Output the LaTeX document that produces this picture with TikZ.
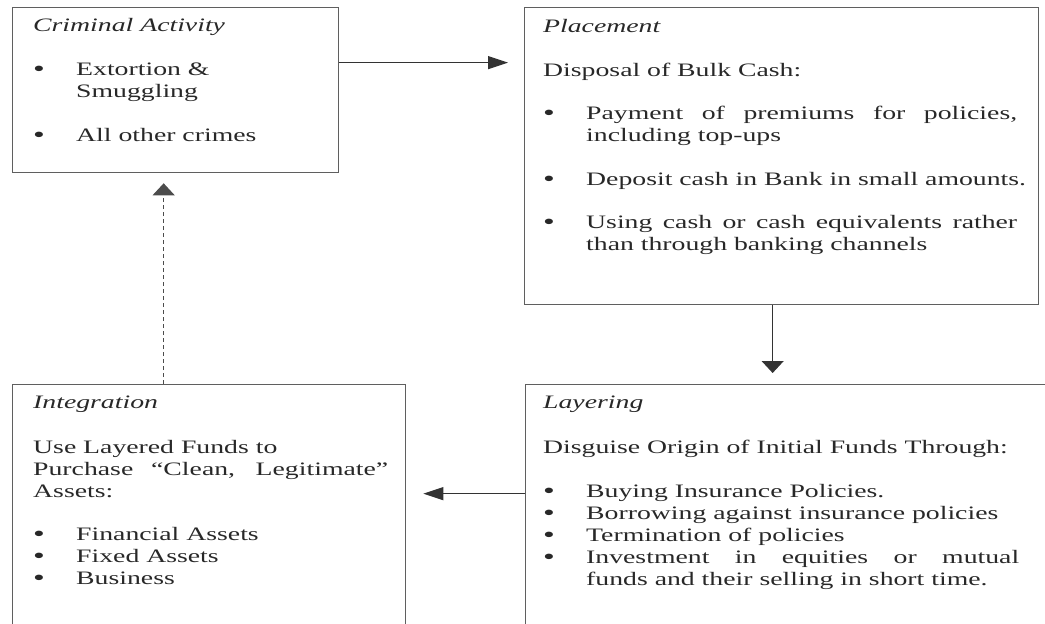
\documentclass[tikz,border=0pt]{standalone}
\usepackage{fontspec}
\setmainfont{Liberation Serif}[FakeStretch=1.46]
\usepackage{tikz}
\usetikzlibrary{arrows.meta,positioning}
\usepackage{xcolor}
\definecolor{boxgray}{RGB}{95,95,95}
\definecolor{inkgray}{RGB}{40,40,40}
\newcommand{\bulitem}{\makebox[43pt][l]{\raisebox{-1.2pt}{\fontsize{23pt}{22pt}\selectfont\textbullet}}}
\newcommand{\contline}{\hspace*{43pt}}
\newcommand{\jline}[2]{\makebox[#1][s]{#2}}

\begin{document}
\begin{tikzpicture}[x=1pt, y=-1pt,
    stage/.style={draw=boxgray, line width=1.3pt, anchor=north west, inner sep=0pt},
    txt/.style={anchor=north west, align=left, inner sep=0pt, text=inkgray,
        font=\fontsize{19pt}{22pt}\selectfont},
    harr/.style={-{Triangle[length=20pt, width=13pt]}, line width=1.2pt, black!80},
    varr/.style={-{Triangle[length=12pt, width=22pt]}, line width=1.2pt, black!80}]

    \useasboundingbox (0,0) rectangle (1045,624);
    \clip (0,0) rectangle (1045,624);

    % Boxes
    \node[stage, minimum width=326pt, minimum height=165pt] (crime) at (12,7) {};
    \node[stage, minimum width=514pt, minimum height=297pt] (place) at (524,7) {};
    \node[stage, minimum width=393pt, minimum height=260pt] (integ) at (12,384) {};
    \node[stage, minimum width=540pt, minimum height=260pt] (layer) at (525,384) {};

    % Box texts (first baseline = top + 15.4pt strut)
    \node[txt] (crimetxt) at (33,15.6) {\strut\textit{Criminal Activity}\\[22pt]
        \bulitem Extortion \&\\
        \contline Smuggling\\[22pt]
        \bulitem All other crimes};
    \node[txt] (placetxt) at (543,16.6) {\strut\textit{Placement}\\[22pt]
        Disposal of Bulk Cash:\\[21pt]
        \bulitem\jline{431pt}{Payment of premiums for policies,}\\
        \contline including top-ups\\[22pt]
        \bulitem Deposit cash in Bank in small amounts.\\[21pt]
        \bulitem\jline{431pt}{Using cash or cash equivalents rather}\\
        \contline than through banking channels};
    \node[txt] (integtxt) at (33,392.6) {\strut\textit{Integration}\\[23pt]
        Use Layered Funds to\\
        \jline{355pt}{Purchase ``Clean, Legitimate''}\\
        Assets:\\[21pt]
        \bulitem Financial Assets\\
        \bulitem Fixed Assets\\
        \bulitem Business};
    \node[txt] (layertxt) at (543,392.6) {\strut\textit{Layering}\\[23pt]
        Disguise Origin of Initial Funds Through:\\[22pt]
        \bulitem Buying Insurance Policies.\\
        \bulitem Borrowing against insurance policies\\
        \bulitem Termination of policies\\
        \bulitem\jline{433pt}{Investment in equities or mutual}\\
        \contline funds and their selling in short time.};

    % Connections
    \draw[harr, shorten >=16pt] ([yshift=27.5pt]crime.east) coordinate (c1) -- (c1 -| place.west);
    \draw[varr, shorten >=11pt] ([xshift=-9pt]place.south) coordinate (c2) -- (c2 |- layer.north);
    \draw[harr, shorten >=17pt] ([yshift=21pt]layer.west) coordinate (c3) -- (c3 -| integ.east);
    \draw[varr, shorten >=10pt, line width=1pt, black!70, dash pattern=on 4pt off 3pt]
        ([xshift=-45.5pt]integ.north) coordinate (c4) -- (c4 |- crime.south);
\end{tikzpicture}
\end{document}
